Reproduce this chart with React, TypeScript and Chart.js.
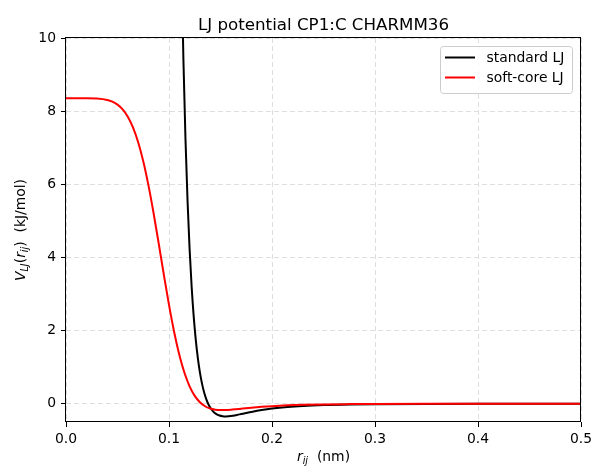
import React, { useEffect, useRef } from "react";
import { Chart, registerables } from "chart.js";

Chart.register(...registerables);

// ---- data ----
const xTicks = [0, 0.1, 0.2, 0.3, 0.4, 0.5];
const yTicks = [0, 2, 4, 6, 8, 10];

const rStd = [0.110, 0.112, 0.114, 0.116, 0.118, 0.120, 0.122, 0.124, 0.126, 0.128, 0.130, 0.132, 0.134, 0.136, 0.138, 0.140, 0.143, 0.146, 0.149, 0.152, 0.155, 0.158, 0.162, 0.166, 0.170, 0.175, 0.180, 0.190, 0.200, 0.215, 0.230, 0.250, 0.275, 0.300, 0.350, 0.400, 0.450, 0.500];
const vStd = [15.73, 12.17, 9.40, 7.24, 5.55, 4.23, 3.19, 2.38, 1.745, 1.247, 0.858, 0.556, 0.321, 0.139, 0.0, -0.106, -0.216, -0.285, -0.324, -0.343, -0.348, -0.344, -0.329, -0.308, -0.284, -0.254, -0.225, -0.174, -0.134, -0.091, -0.062, -0.038, -0.022, -0.013, -0.005, -0.002, -0.001, -0.001];

const rSoft = [0, 0.01, 0.02, 0.03, 0.04, 0.045, 0.05, 0.055, 0.06, 0.065, 0.07, 0.075, 0.08, 0.085, 0.09, 0.095, 0.10, 0.105, 0.11, 0.115, 0.12, 0.125, 0.13, 0.135, 0.14, 0.145, 0.15, 0.155, 0.16, 0.165, 0.17, 0.18, 0.19, 0.20, 0.215, 0.23, 0.25, 0.275, 0.30, 0.35, 0.40, 0.45, 0.50];
const vSoft = [8.352, 8.352, 8.352, 8.344, 8.306, 8.259, 8.178, 8.047, 7.847, 7.556, 7.154, 6.628, 5.976, 5.216, 4.382, 3.526, 2.703, 1.962, 1.339, 0.845, 0.475, 0.214, 0.040, -0.069, -0.132, -0.163, -0.174, -0.172, -0.163, -0.150, -0.136, -0.109, -0.085, -0.066, -0.045, -0.031, -0.019, -0.011, -0.0065, -0.0026, -0.0012, -0.0006, -0.0003];

const seriesNames = ["standard LJ", "soft-core LJ"];
const seriesColors = ["#000000", "#ff0000"];
const titleText = "LJ potential CP1:C CHARMM36";

const FAM = '"DejaVu Sans", sans-serif';

type Seg = { t: string; f: string; dy: number };

function drawRich(ctx: CanvasRenderingContext2D, segs: Seg[], cx: number, y: number) {
  let total = 0;
  const widths = segs.map((s) => {
    ctx.font = s.f;
    const w = ctx.measureText(s.t).width;
    total += w;
    return w;
  });
  let x = cx - total / 2;
  ctx.textAlign = "left";
  ctx.textBaseline = "alphabetic";
  segs.forEach((s, i) => {
    ctx.font = s.f;
    ctx.fillText(s.t, x, y + s.dy);
    x += widths[i];
  });
}

const decor = {
  id: "decor",
  afterDatasetsDraw(chart: any) {
    const { ctx, chartArea: a } = chart;
    ctx.save();
    // frame (spines)
    ctx.strokeStyle = "#000";
    ctx.lineWidth = 1;
    ctx.setLineDash([]);
    const l = Math.round(a.left) - 0.5;
    const t = Math.round(a.top) - 0.5;
    const r = Math.round(a.right) - 0.5;
    const b = Math.round(a.bottom) - 0.5;
    ctx.strokeRect(l, t, r - l, b - t);

    // legend
    const lx = 440.5, ly = 46.5, lw = 132, lh = 47, rad = 3;
    ctx.beginPath();
    ctx.moveTo(lx + rad, ly);
    ctx.lineTo(lx + lw - rad, ly);
    ctx.quadraticCurveTo(lx + lw, ly, lx + lw, ly + rad);
    ctx.lineTo(lx + lw, ly + lh - rad);
    ctx.quadraticCurveTo(lx + lw, ly + lh, lx + lw - rad, ly + lh);
    ctx.lineTo(lx + rad, ly + lh);
    ctx.quadraticCurveTo(lx, ly + lh, lx, ly + lh - rad);
    ctx.lineTo(lx, ly + rad);
    ctx.quadraticCurveTo(lx, ly, lx + rad, ly);
    ctx.closePath();
    ctx.fillStyle = "rgba(255,255,255,0.8)";
    ctx.fill();
    ctx.strokeStyle = "#cccccc";
    ctx.lineWidth = 1;
    ctx.stroke();
    const rows = [57.5, 77.5];
    seriesNames.forEach((name, i) => {
      ctx.strokeStyle = seriesColors[i];
      ctx.lineWidth = 2;
      ctx.beginPath();
      ctx.moveTo(445, rows[i]);
      ctx.lineTo(475, rows[i]);
      ctx.stroke();
      ctx.fillStyle = "#000";
      ctx.font = `13.9px ${FAM}`;
      ctx.textAlign = "left";
      ctx.textBaseline = "middle";
      ctx.fillText(name, 486.5, rows[i] + 1);
    });
    ctx.restore();
  },
  afterDraw(chart: any) {
    const { ctx, chartArea: a } = chart;
    ctx.save();
    ctx.fillStyle = "#000";
    const cx = (a.left + a.right) / 2;
    // title
    ctx.font = `16.7px ${FAM}`;
    ctx.textAlign = "center";
    ctx.textBaseline = "alphabetic";
    ctx.fillText(titleText, cx, 30);

    const main = `13.9px ${FAM}`;
    const it = `italic 13.9px ${FAM}`;
    const sub = `italic 9.7px ${FAM}`;
    // x label
    drawRich(
      ctx,
      [
        { t: "r", f: it, dy: 0 },
        { t: "ij", f: sub, dy: 3 },
        { t: "  (nm)", f: main, dy: 0 },
      ],
      cx,
      461
    );
    // y label (rotated)
    ctx.translate(25, (a.top + a.bottom) / 2);
    ctx.rotate(-Math.PI / 2);
    drawRich(
      ctx,
      [
        { t: "V", f: it, dy: 0 },
        { t: "LJ", f: sub, dy: 3 },
        { t: "(", f: main, dy: 0 },
        { t: "r", f: it, dy: 0 },
        { t: "ij", f: sub, dy: 3 },
        { t: ")", f: main, dy: 0 },
        { t: "  (kJ/mol)", f: main, dy: 0 },
      ],
      0,
      0
    );
    ctx.restore();
  },
};

export default function App() {
  const ref = useRef<HTMLCanvasElement | null>(null);

  useEffect(() => {
    if (!ref.current) return;
    const stdData = rStd.map((x, i) => ({ x, y: vStd[i] }));
    const softData = rSoft.map((x, i) => ({ x, y: vSoft[i] }));

    const gridCommon = {
      color: "#dedede",
      lineWidth: 1,
      drawTicks: true,
      tickLength: 5,
      tickColor: "#000",
      tickWidth: 1,
      tickBorderDash: [],
    };

    const chart = new Chart(ref.current, {
      type: "line",
      data: {
        datasets: [
          {
            label: seriesNames[0],
            data: stdData,
            borderColor: seriesColors[0],
            borderWidth: 2,
            pointRadius: 0,
            fill: false,
            cubicInterpolationMode: "monotone",
            order: 2,
            clip: 0,
          },
          {
            label: seriesNames[1],
            data: softData,
            borderColor: seriesColors[1],
            borderWidth: 2,
            pointRadius: 0,
            fill: false,
            cubicInterpolationMode: "monotone",
            order: 1,
            clip: 0,
          },
        ],
      },
      options: {
        animation: false,
        responsive: false,
        devicePixelRatio: 1,
        layout: { padding: { left: 0, top: 38, right: 11, bottom: 0 } },
        plugins: {
          legend: { display: false },
          title: { display: false },
          tooltip: { enabled: false },
        },
        scales: {
          x: {
            type: "linear",
            min: 0,
            max: 0.5,
            grid: gridCommon,
            border: { display: false, dash: [5, 3] },
            afterBuildTicks: (s: any) => {
              s.ticks = xTicks.map((v) => ({ value: v }));
            },
            afterFit: (s: any) => {
              s.height = 47;
              s.paddingLeft = 0;
              s.paddingRight = 0;
              s.paddingTop = 0;
              s.paddingBottom = 0;
            },
            ticks: {
              padding: 4,
              color: "#000",
              font: { family: "DejaVu Sans", size: 13.9 },
              maxRotation: 0,
              autoSkip: false,
              callback: (v: any) => Number(v).toFixed(1),
            },
          },
          y: {
            type: "linear",
            min: -0.5,
            max: 10,
            grid: gridCommon,
            border: { display: false, dash: [5, 3] },
            afterBuildTicks: (s: any) => {
              s.ticks = yTicks.map((v) => ({ value: v }));
            },
            afterFit: (s: any) => {
              s.width = 66;
              s.paddingLeft = 0;
              s.paddingRight = 0;
              s.paddingTop = 0;
              s.paddingBottom = 0;
            },
            ticks: {
              padding: 5,
              color: "#000",
              font: { family: "DejaVu Sans", size: 13.9 },
              autoSkip: false,
              callback: (v: any) => String(Math.round(Number(v))),
            },
          },
        },
      },
      plugins: [decor],
    } as any);

    return () => chart.destroy();
  }, []);

  return (
    <div style={{ position: "absolute", left: 0, top: 0, width: 592, height: 469, background: "#fff" }}>
      <canvas ref={ref} width={592} height={469} style={{ width: 592, height: 469, display: "block" }} />
    </div>
  );
}
